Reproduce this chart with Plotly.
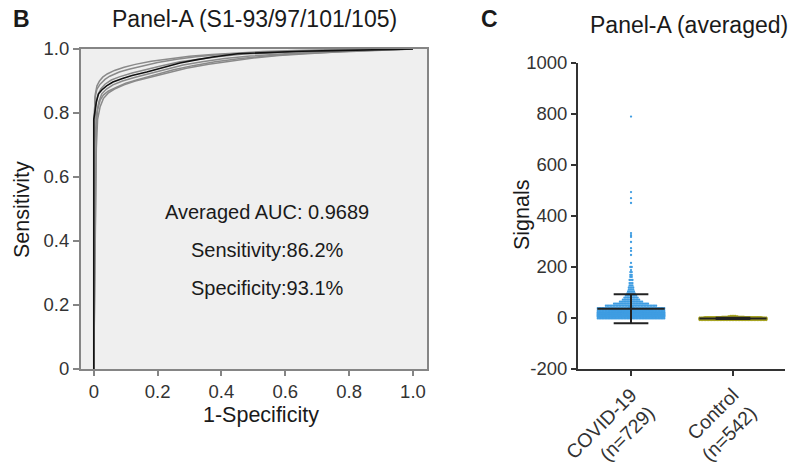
import numpy as np
import plotly.graph_objects as go

W, H = 792, 467
FONT = "Liberation Sans, Arial, sans-serif"

# ---------------- ROC data (Panel B) ----------------
mean_fpr = [0, 0, 0.003, 0.008, 0.015, 0.025, 0.04, 0.06, 0.09, 0.12, 0.166, 0.2, 0.27, 0.32, 0.373, 0.45, 0.55, 0.65, 0.75, 0.85, 0.97, 1.0]
mean_tpr = [0, 0.78, 0.80, 0.835, 0.86, 0.872, 0.885, 0.897, 0.908, 0.917, 0.928, 0.937, 0.956, 0.966, 0.975, 0.985, 0.99, 0.993, 0.995, 0.997, 1.0, 1.0]

g1_fpr = [0, 0, 0.004, 0.01, 0.02, 0.035, 0.05, 0.08, 0.11, 0.15, 0.2, 0.26, 0.32, 0.4, 0.48, 0.56, 0.65, 0.75, 0.88, 1.0]
g1_tpr = [0, 0.72, 0.85, 0.875, 0.89, 0.905, 0.915, 0.928, 0.937, 0.946, 0.958, 0.968, 0.976, 0.983, 0.988, 0.991, 0.994, 0.997, 0.999, 1.0]
g2_fpr = [0, 0.006, 0.008, 0.012, 0.02, 0.03, 0.045, 0.07, 0.1, 0.14, 0.19, 0.25, 0.31, 0.38, 0.46, 0.55, 0.65, 0.76, 0.9, 1.0]
g2_tpr = [0, 0.67, 0.76, 0.81, 0.84, 0.856, 0.868, 0.88, 0.893, 0.905, 0.918, 0.935, 0.948, 0.96, 0.97, 0.979, 0.986, 0.991, 0.997, 1.0]
g3_fpr = [0, 0.002, 0.006, 0.012, 0.022, 0.035, 0.055, 0.08, 0.12, 0.16, 0.21, 0.27, 0.33, 0.4, 0.47, 0.55, 0.64, 0.74, 0.87, 1.0]
g3_tpr = [0, 0.75, 0.82, 0.855, 0.875, 0.89, 0.903, 0.913, 0.925, 0.935, 0.947, 0.96, 0.968, 0.977, 0.984, 0.988, 0.992, 0.996, 0.999, 1.0]
g4_fpr = [0, 0.003, 0.009, 0.016, 0.025, 0.04, 0.06, 0.09, 0.13, 0.17, 0.22, 0.28, 0.34, 0.41, 0.49, 0.57, 0.66, 0.77, 0.9, 1.0]
g4_tpr = [0, 0.7, 0.8, 0.835, 0.86, 0.875, 0.888, 0.9, 0.912, 0.922, 0.935, 0.95, 0.96, 0.97, 0.978, 0.984, 0.989, 0.994, 0.998, 1.0]
g5_fpr = [0, 0.001, 0.005, 0.01, 0.018, 0.028, 0.042, 0.065, 0.095, 0.13, 0.18, 0.24, 0.3, 0.37, 0.45, 0.53, 0.63, 0.74, 0.88, 1.0]
g5_tpr = [0, 0.78, 0.86, 0.885, 0.9, 0.912, 0.922, 0.933, 0.943, 0.952, 0.962, 0.97, 0.977, 0.983, 0.988, 0.992, 0.995, 0.998, 0.999, 1.0]
g6_fpr = [0, 0.008, 0.012, 0.02, 0.03, 0.045, 0.065, 0.095, 0.13, 0.18, 0.23, 0.29, 0.36, 0.43, 0.5, 0.58, 0.68, 0.78, 0.9, 1.0]
g6_tpr = [0, 0.69, 0.78, 0.82, 0.845, 0.862, 0.875, 0.888, 0.9, 0.913, 0.925, 0.94, 0.952, 0.963, 0.972, 0.98, 0.987, 0.992, 0.997, 1.0]

roc_ticks = [0, 0.2, 0.4, 0.6, 0.8, 1.0]
roc_ticklabels = ["0", "0.2", "0.4", "0.6", "0.8", "1.0"]

# ---------------- Scatter data (Panel C) ----------------
groups = ["COVID-19<br>(n=729)", "Control<br>(n=542)"]
covid_levels = [790, 494, 470, 451, 333, 325, 318, 298, 274, 263, 247, 216, 200, 188, 180, 169, 161,
                149, 137, 128, 120, 112, 104, 96, 88, 80, 72, 64, 56, 48, 40, 32, 24, 16, 8, 0]
covid_counts = [1, 1, 1, 1, 1, 1, 1, 1, 1, 1, 1, 1, 2, 1, 2, 2, 2,
                3, 3, 3, 4, 4, 5, 6, 8, 10, 12, 16, 24, 35, 50, 75, 110, 140, 150, 50]
control_levels = [8, 6, 4, 2, 0, -2, -4, -6]
control_counts = [4, 7, 15, 40, 130, 200, 116, 30]
sig_ticks = [-200, 0, 200, 400, 600, 800, 1000]
sig_ticklabels = ["-200", "0", "200", "400", "600", "800", "1000"]

fig = go.Figure()

# ROC curves
for fx, fy in [(g1_fpr, g1_tpr), (g2_fpr, g2_tpr), (g3_fpr, g3_tpr),
               (g4_fpr, g4_tpr), (g5_fpr, g5_tpr), (g6_fpr, g6_tpr)]:
    fig.add_trace(go.Scatter(x=fx, y=fy, mode="lines", line=dict(color="#8a8a8a", width=1.5),
                             xaxis="x", yaxis="y", showlegend=False, hoverinfo="skip"))
fig.add_trace(go.Scatter(x=mean_fpr, y=mean_tpr, mode="lines", line=dict(color="#111111", width=1.6),
                         xaxis="x", yaxis="y", showlegend=False))


def swarm(center, levels, counts, per_row=46, dx=0.0145, dy=3.0):
    xs, ys = [], []
    for lv, n in zip(levels, counts):
        rows = int(np.ceil(n / per_row))
        left = n
        for r in range(rows):
            m = min(per_row, left)
            left -= m
            for i in range(m):
                xs.append(center + (i - (m - 1) / 2) * dx)
                ys.append(lv + (r - (rows - 1) / 2) * dy)
    return xs, ys


cx, cy = swarm(0, covid_levels, covid_counts)
kx, ky = swarm(1, control_levels, control_counts)
fig.add_trace(go.Scatter(x=cx, y=cy, mode="markers", marker=dict(color="#3f9de2", size=2.3),
                         xaxis="x2", yaxis="y2", showlegend=False))
fig.add_trace(go.Scatter(x=kx, y=ky, mode="markers", marker=dict(color="#a8a424", size=2.3),
                         xaxis="x2", yaxis="y2", showlegend=False))

# mean +/- SD bars
for center, levels, counts in [(0, covid_levels, covid_counts), (1, control_levels, control_counts)]:
    vals = np.repeat(levels, counts).astype(float)
    mu, sd = vals.mean(), vals.std(ddof=1)
    lines_x, lines_y = [], []
    lines_x += [center - 0.33, center + 0.33, None]; lines_y += [mu, mu, None]
    lines_x += [center, center, None]; lines_y += [mu - sd, mu + sd, None]
    lines_x += [center - 0.17, center + 0.17, None]; lines_y += [mu + sd, mu + sd, None]
    lines_x += [center - 0.17, center + 0.17, None]; lines_y += [mu - sd, mu - sd, None]
    fig.add_trace(go.Scatter(x=lines_x, y=lines_y, mode="lines", line=dict(color="#222222", width=2),
                             xaxis="x2", yaxis="y2", showlegend=False))


def px(x):
    return x / W


def py(y):
    return 1 - y / H


tickfont = dict(family=FONT, size=18.5, color="#333333")
common = dict(showgrid=False, zeroline=False, automargin=False, ticks="outside", tickwidth=1.5)
fig.update_layout(
    width=W, height=H, margin=dict(l=0, r=0, t=0, b=0, autoexpand=False),
    paper_bgcolor="white", plot_bgcolor="white",
    font=dict(family=FONT, color="#222222"),
    xaxis=dict(domain=[px(81), px(427)], range=[-0.04, 1.044], tickvals=roc_ticks, ticktext=roc_ticklabels,
               showline=True, mirror=True, linecolor="#858585", linewidth=2, ticklen=5,
               tickcolor="#858585", anchor="y", tickfont=tickfont, **common),
    yaxis=dict(domain=[py(369), py(49)], range=[0, 1.0], tickvals=roc_ticks, ticktext=roc_ticklabels,
               showline=True, mirror=True, linecolor="#858585", linewidth=2, ticklen=6,
               tickcolor="#858585", anchor="x", tickfont=tickfont, **common),
    xaxis2=dict(domain=[px(578), px(785)], range=[-0.52, 1.51], tickvals=[0, 1], ticktext=groups,
                tickangle=-45, showline=True, linecolor="#333333", linewidth=2,
                ticklen=5, tickcolor="#333333", anchor="y2",
                tickfont=dict(family=FONT, size=19.5, color="#333333"), **common),
    yaxis2=dict(domain=[py(369), py(63)], range=[-200, 1000], tickvals=sig_ticks, ticktext=sig_ticklabels,
                showline=True, linecolor="#333333", linewidth=2, ticklen=5,
                tickcolor="#333333", anchor="x2", tickfont=tickfont, **common),
    shapes=[dict(type="rect", xref="paper", yref="paper", x0=px(81), x1=px(427), y0=py(369), y1=py(49),
                 fillcolor="#efefef", line=dict(width=0), layer="below")],
)

ann = [
    dict(text="<b>B</b>", x=px(21), y=py(19), size=23),
    dict(text="Panel-A (S1-93/97/101/105)", x=px(254), y=py(19), size=23),
    dict(text="<b>C</b>", x=px(489), y=py(19), size=23),
    dict(text="Panel-A (averaged)", x=px(689), y=py(25), size=23),
    dict(text="Sensitivity", x=px(22), y=py(210), textangle=-90, size=21.5),
    dict(text="1-Specificity", x=px(261), y=py(415), size=21.5),
    dict(text="Signals", x=px(522), y=py(215), textangle=-90, size=21.5),
    dict(text="Averaged AUC: 0.9689", x=px(267), y=py(212), size=20),
    dict(text="Sensitivity:86.2%", x=px(267), y=py(250), size=20),
    dict(text="Specificity:93.1%", x=px(267), y=py(288), size=20),
]
for a in ann:
    s = a.pop("size")
    a.update(xref="paper", yref="paper", showarrow=False, xanchor="center", yanchor="middle",
             font=dict(family=FONT, size=s, color="#1a1a1a"))
fig.update_layout(annotations=ann)

fig.write_html("out.html", config={"displayModeBar": False},
               post_script="document.body.style.margin='0';document.body.style.overflow='hidden';")
